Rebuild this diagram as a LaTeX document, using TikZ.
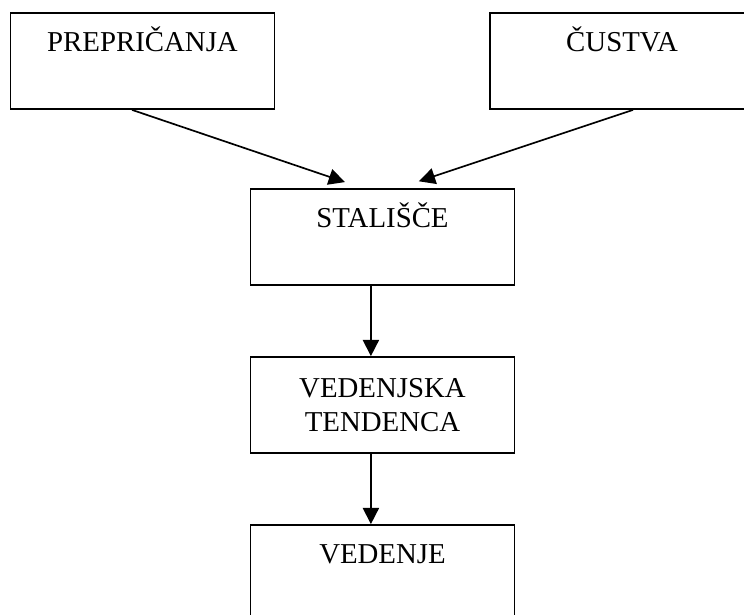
\documentclass[tikz,border=0pt]{standalone}
\usepackage{fontspec}
\setmainfont{Liberation Serif}
\usetikzlibrary{arrows.meta}

\tikzset{
  box/.style={draw, line width=1.3pt, minimum width=6.6cm, minimum height=2.4cm,
    inner sep=0pt, align=center, font=\fontsize{20.5}{24}\selectfont},
  toptext/.style={text height=0.95cm, text depth=1.45cm},
  arr/.style={-{Triangle[length=11.5pt,width=11.5pt]}, line width=1.2pt}
}

\begin{document}
\begin{tikzpicture}[scale=1]

\def\xmax{18.6}
\def\ymin{-15.35}
\clip (0,0) rectangle (\xmax,\ymin);
\useasboundingbox (0,0) rectangle (\xmax,\ymin);

\node[box, toptext] (prep) at (3.5625,-1.525) {PREPRIČANJA};
\node[box, toptext] (cust) at (15.55,-1.525) {ČUSTVA};
\node[box, toptext] (stal) at (9.5625,-5.925) {STALIŠČE};
\node[box] (vt) at (9.5625,-10.125) {VEDENJSKA\\TENDENCA};
\node[box, toptext] (ved) at (9.5625,-14.325) {VEDENJE};

\draw[arr] ([xshift=-0.26cm]prep.south) -- ([xshift=-0.94cm, yshift=0.15cm]stal.north);
\draw[arr] ([xshift=0.275cm]cust.south) -- ([xshift=0.91cm, yshift=0.17cm]stal.north);
\draw[arr] ([xshift=-0.29cm]stal.south) -- ([xshift=-0.29cm]vt.north);
\draw[arr] ([xshift=-0.29cm]vt.south) -- ([xshift=-0.29cm]ved.north);

\end{tikzpicture}
\end{document}
